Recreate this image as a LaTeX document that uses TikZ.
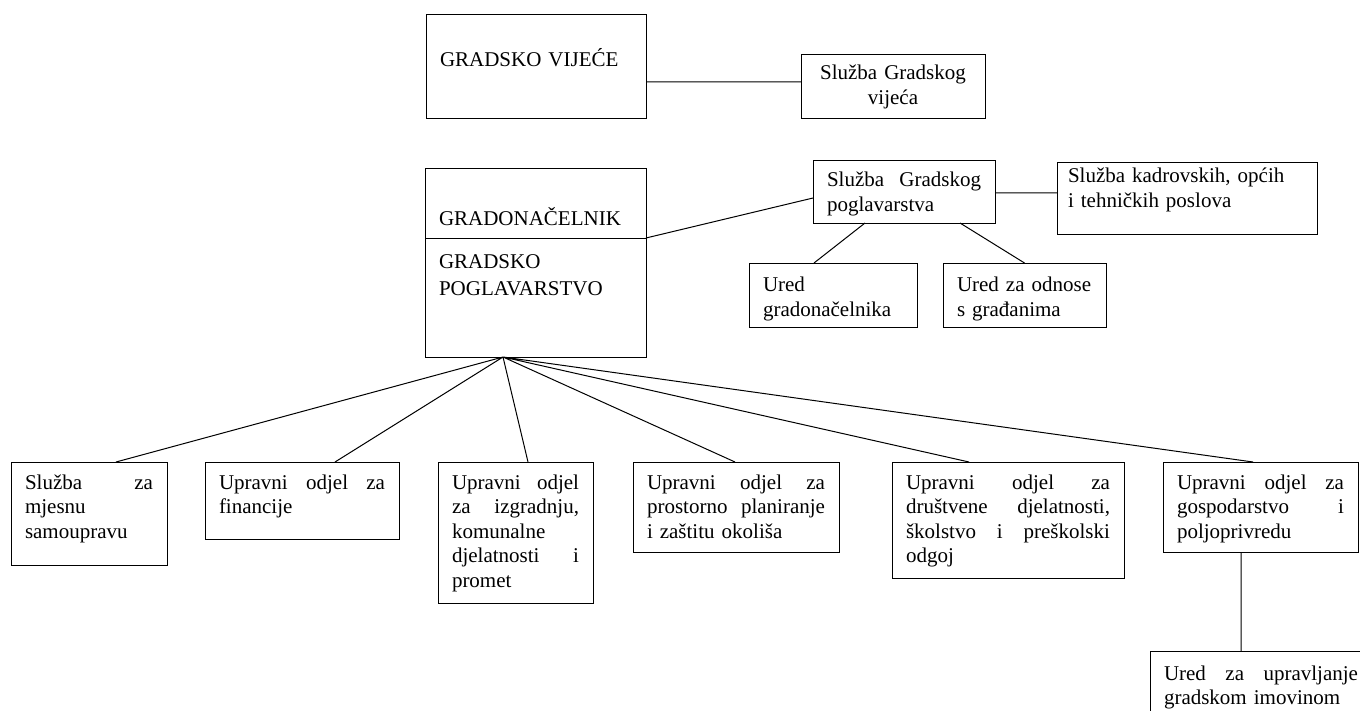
\documentclass[tikz,border=0pt]{standalone}
\usepackage{fontspec}
\setmainfont{Liberation Serif}
\usepackage{tikz}

\begin{document}
\begin{tikzpicture}[x=1pt, y=-1pt,
        box/.style={draw, rectangle, line width=0.9pt, anchor=north west, inner xsep=14pt, inner ysep=0pt, outer sep=0pt, align=left, font=\fontsize{21}{24.5}\selectfont},
        link/.style={line width=1pt}]
        \useasboundingbox (0,0) rectangle (1360,711);
        \clip (0,0) rectangle (1360,711);

        \node[box, text width=192pt, text height=53pt, text depth=51pt] at (426,14) (vijece) {GRADSKO VIJEĆE};
        \node[box, align=center, text width=156pt, text height=26pt, text depth=38pt] at (801,54) (sluzbaVijeca) {Služba Gradskog\\ vijeća};

        \node[box, text width=193pt, text height=58pt, text depth=12pt] at (425,168) (gradonacelnik) {GRADONAČELNIK};
        \node[box, font=\fontsize{21}{27}\selectfont, text width=193pt, text height=31pt, text depth=88pt] at (425,238) (poglavarstvo) {GRADSKO\\ POGLAVARSTVO};

        \node[box, text width=154pt, text height=27pt, text depth=36pt] at (813,160) (sluzbaPoglavarstva) {Služba \hfill Gradskog\\ poglavarstva};
        \node[box, inner xsep=11pt, text width=238pt, text height=21pt, text depth=51pt] at (1057,162) (kadrovska) {Služba kadrovskih, općih\\ i tehničkih poslova};
        \node[box, text width=140pt, text height=29pt, text depth=35pt] at (749,263) (uredGrad) {Ured\\ gradonačelnika};
        \node[box, text width=135pt, text height=29pt, text depth=35pt] at (943,263) (uredOdnosi) {Ured za odnose\\ s građanima};

        \node[box, text width=128pt, text height=27pt, text depth=76pt] at (11,462) (mjesna) {Služba \hfill za\\ mjesnu\\ samoupravu};
        \node[box, text width=166pt, text height=27pt, text depth=50pt] at (205,462) (financije) {Upravni \hfill odjel \hfill za\\ financije};
        \node[box, text width=127pt, text height=27pt, text depth=114pt] at (438,462) (izgradnja) {Upravni \hfill odjel\\ za \hfill izgradnju,\\ komunalne\\ djelatnosti \hfill i\\ promet};
        \node[box, text width=178pt, text height=27pt, text depth=63pt] at (633,462) (prostorno) {Upravni \hfill odjel \hfill za\\ prostorno \hfill planiranje\\ i zaštitu okoliša};
        \node[box, text width=204pt, text height=27pt, text depth=89pt] at (892,462) (drustvene) {Upravni \hfill odjel \hfill za\\ društvene \hfill djelatnosti,\\ školstvo \hfill i \hfill preškolski\\ odgoj};
        \node[box, text width=167pt, text height=27pt, text depth=63pt] at (1163,462) (gospodarstvo) {Upravni \hfill odjel \hfill za\\ gospodarstvo \hfill i\\ poljoprivredu};
        \node[box, text width=194pt, text height=29pt, text depth=80pt] at (1150,651) (imovina) {Ured \hfill za \hfill upravljanje\\ gradskom imovinom};

        \coordinate (fan) at ([xshift=-32.5pt]poglavarstvo.south);

        \draw[link] ([yshift=-16pt]vijece.east) to ([yshift=4pt]sluzbaVijeca.west)
            (gradonacelnik.south east) to ([yshift=-6.5pt]sluzbaPoglavarstva.west)
            ([yshift=-1.5pt]sluzbaPoglavarstva.east) to ([yshift=5pt]kadrovska.west)
            ([xshift=-39pt]sluzbaPoglavarstva.south) to ([xshift=-19pt]uredGrad.north)
            ([xshift=56pt]sluzbaPoglavarstva.south) to (uredOdnosi.north);

        \draw[link] (fan) to ([xshift=27pt]mjesna.north)
            (fan) to ([xshift=33pt]financije.north)
            (fan) to ([xshift=12.5pt]izgradnja.north)
            (fan) to ([xshift=-1pt]prostorno.north)
            (fan) to ([xshift=-39pt]drustvene.north)
            (fan) to ([xshift=-7.5pt]gospodarstvo.north)
            ([xshift=-19.5pt]gospodarstvo.south) to ([xshift=-20pt]imovina.north);
    \end{tikzpicture}
\end{document}
